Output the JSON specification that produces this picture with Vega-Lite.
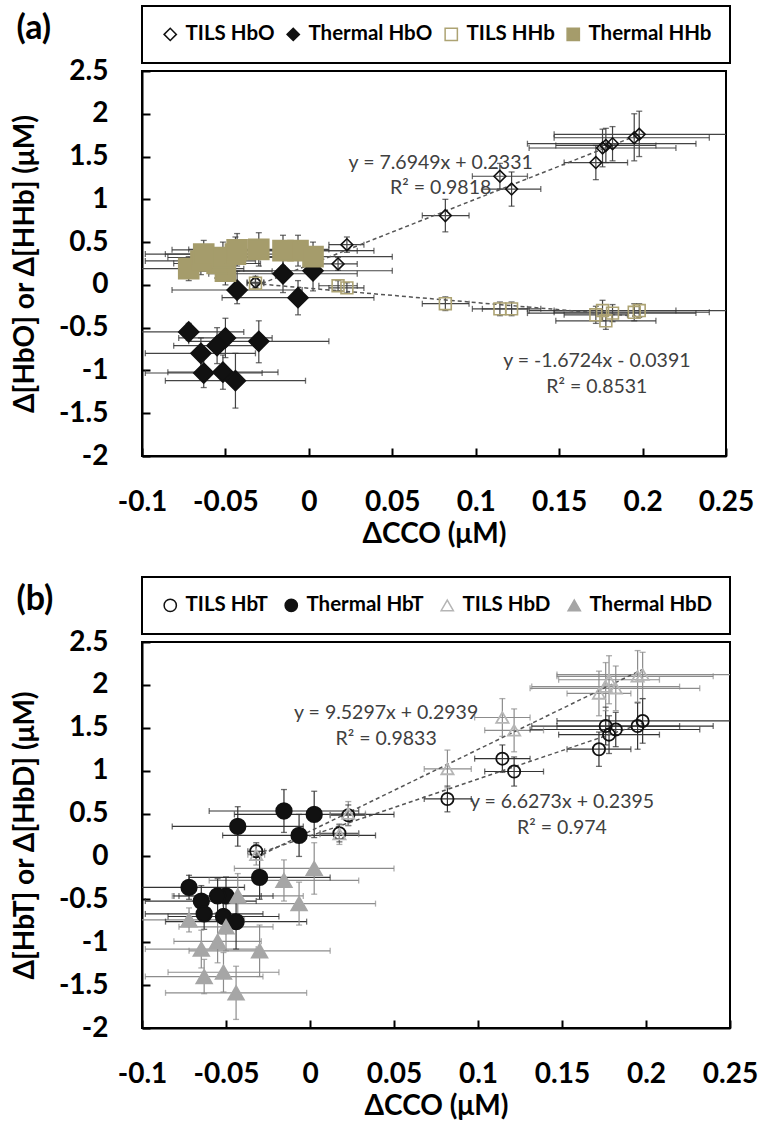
{
 "$schema": "https://vega.github.io/schema/vega-lite/v6.json",
 "padding": {"left": 10, "top": 4, "right": 2, "bottom": 2},
 "background": "white",
 "config": {
  "font": "Lato",
  "view": {"stroke": "black", "strokeWidth": 2},
  "scale": {"continuousPadding": 0},
  "axis": {"grid": false, "labelFlush": false, "labelOverlap": false, "domainColor": "black", "domainWidth": 2, "tickColor": "black", "tickWidth": 2, "tickSize": -8, "labelFont": "Lato", "labelFontSize": 28, "labelFontWeight": "bold", "labelColor": "black", "titleFont": "Lato", "titleFontSize": 28, "titleFontWeight": "bold", "titleColor": "black"},
  "axisX": {"labelPadding": 40, "titlePadding": 4},
  "axisY": {"labelPadding": 42, "titlePadding": 19},
  "legend": {"labelFont": "Lato", "labelFontSize": 20.5, "labelFontWeight": "bold", "labelColor": "black", "strokeColor": "black", "strokeWidth": 2, "padding": 18, "offset": 8, "symbolSize": 150, "symbolStrokeWidth": 1.5, "columnPadding": 8, "labelOffset": 5},
  "title": {"font": "Lato", "fontSize": 34, "fontWeight": "bold", "color": "black", "anchor": "start", "frame": "bounds", "offset": 0}
 },
 "datasets": {
  "a": [
   {"s":"TILS HbO","m":"TILS","x":-0.032,"xlo":-0.037,"xhi":-0.027,"y":0.03,"ylo":-0.04,"yhi":0.1},
   {"s":"TILS HbO","m":"TILS","x":0.0175,"xlo":0.006,"xhi":0.029,"y":0.245,"ylo":0.17,"yhi":0.32},
   {"s":"TILS HbO","m":"TILS","x":0.0228,"xlo":0.012,"xhi":0.033,"y":0.47,"ylo":0.38,"yhi":0.56},
   {"s":"TILS HbO","m":"TILS","x":0.0818,"xlo":0.068,"xhi":0.096,"y":0.81,"ylo":0.62,"yhi":1.0},
   {"s":"TILS HbO","m":"TILS","x":0.1145,"xlo":0.098,"xhi":0.131,"y":1.27,"ylo":1.12,"yhi":1.42},
   {"s":"TILS HbO","m":"TILS","x":0.1215,"xlo":0.104,"xhi":0.139,"y":1.12,"ylo":0.92,"yhi":1.32},
   {"s":"TILS HbO","m":"TILS","x":0.172,"xlo":0.153,"xhi":0.191,"y":1.43,"ylo":1.23,"yhi":1.63},
   {"s":"TILS HbO","m":"TILS","x":0.176,"xlo":0.132,"xhi":0.22,"y":1.6,"ylo":1.38,"yhi":1.82},
   {"s":"TILS HbO","m":"TILS","x":0.178,"xlo":0.148,"xhi":0.208,"y":1.63,"ylo":1.43,"yhi":1.83},
   {"s":"TILS HbO","m":"TILS","x":0.182,"xlo":0.131,"xhi":0.232,"y":1.65,"ylo":1.45,"yhi":1.85},
   {"s":"TILS HbO","m":"TILS","x":0.195,"xlo":0.147,"xhi":0.24,"y":1.72,"ylo":1.45,"yhi":2.0},
   {"s":"TILS HbO","m":"TILS","x":0.198,"xlo":0.147,"xhi":0.26,"y":1.76,"ylo":1.5,"yhi":2.03},
   {"s":"Thermal HbO","m":"Thermal","x":-0.072,"xlo":-0.105,"xhi":-0.039,"y":-0.55,"ylo":-0.65,"yhi":-0.45},
   {"s":"Thermal HbO","m":"Thermal","x":-0.05,"xlo":-0.078,"xhi":-0.022,"y":-0.62,"ylo":-0.85,"yhi":-0.39},
   {"s":"Thermal HbO","m":"Thermal","x":-0.055,"xlo":-0.081,"xhi":-0.029,"y":-0.71,"ylo":-0.92,"yhi":-0.5},
   {"s":"Thermal HbO","m":"Thermal","x":-0.03,"xlo":-0.072,"xhi":0.012,"y":-0.66,"ylo":-0.91,"yhi":-0.42},
   {"s":"Thermal HbO","m":"Thermal","x":-0.0647,"xlo":-0.098,"xhi":-0.032,"y":-0.8,"ylo":-0.98,"yhi":-0.62},
   {"s":"Thermal HbO","m":"Thermal","x":-0.063,"xlo":-0.098,"xhi":-0.028,"y":-1.03,"ylo":-1.2,"yhi":-0.85},
   {"s":"Thermal HbO","m":"Thermal","x":-0.0515,"xlo":-0.0845,"xhi":-0.0185,"y":-1.02,"ylo":-1.22,"yhi":-0.82},
   {"s":"Thermal HbO","m":"Thermal","x":-0.044,"xlo":-0.086,"xhi":-0.002,"y":-1.12,"ylo":-1.44,"yhi":-0.8},
   {"s":"Thermal HbO","m":"Thermal","x":-0.043,"xlo":-0.082,"xhi":-0.004,"y":-0.06,"ylo":-0.22,"yhi":0.16},
   {"s":"Thermal HbO","m":"Thermal","x":-0.0065,"xlo":-0.052,"xhi":0.039,"y":-0.15,"ylo":-0.35,"yhi":0.05},
   {"s":"Thermal HbO","m":"Thermal","x":-0.0155,"xlo":-0.06,"xhi":0.029,"y":0.13,"ylo":-0.09,"yhi":0.35},
   {"s":"Thermal HbO","m":"Thermal","x":0.0025,"xlo":-0.045,"xhi":0.05,"y":0.165,"ylo":-0.07,"yhi":0.4},
   {"s":"TILS HHb","m":"TILS","x":-0.032,"xlo":-0.037,"xhi":-0.027,"y":0.02,"ylo":-0.03,"yhi":0.07},
   {"s":"TILS HHb","m":"TILS","x":0.0175,"xlo":0.006,"xhi":0.029,"y":-0.01,"ylo":-0.07,"yhi":0.05},
   {"s":"TILS HHb","m":"TILS","x":0.0228,"xlo":0.012,"xhi":0.033,"y":-0.035,"ylo":-0.095,"yhi":0.025},
   {"s":"TILS HHb","m":"TILS","x":0.0818,"xlo":0.068,"xhi":0.096,"y":-0.22,"ylo":-0.3,"yhi":-0.14},
   {"s":"TILS HHb","m":"TILS","x":0.1145,"xlo":0.098,"xhi":0.131,"y":-0.28,"ylo":-0.36,"yhi":-0.2},
   {"s":"TILS HHb","m":"TILS","x":0.1215,"xlo":0.104,"xhi":0.139,"y":-0.28,"ylo":-0.36,"yhi":-0.2},
   {"s":"TILS HHb","m":"TILS","x":0.172,"xlo":0.153,"xhi":0.191,"y":-0.35,"ylo":-0.45,"yhi":-0.25},
   {"s":"TILS HHb","m":"TILS","x":0.176,"xlo":0.132,"xhi":0.22,"y":-0.3,"ylo":-0.42,"yhi":-0.18},
   {"s":"TILS HHb","m":"TILS","x":0.178,"xlo":0.148,"xhi":0.208,"y":-0.42,"ylo":-0.52,"yhi":-0.32},
   {"s":"TILS HHb","m":"TILS","x":0.182,"xlo":0.131,"xhi":0.232,"y":-0.33,"ylo":-0.43,"yhi":-0.23},
   {"s":"TILS HHb","m":"TILS","x":0.195,"xlo":0.147,"xhi":0.24,"y":-0.32,"ylo":-0.42,"yhi":-0.22},
   {"s":"TILS HHb","m":"TILS","x":0.198,"xlo":0.147,"xhi":0.26,"y":-0.3,"ylo":-0.38,"yhi":-0.22},
   {"s":"Thermal HHb","m":"Thermal","x":-0.072,"xlo":-0.105,"xhi":-0.039,"y":0.19,"ylo":0.05,"yhi":0.33},
   {"s":"Thermal HHb","m":"Thermal","x":-0.05,"xlo":-0.078,"xhi":-0.022,"y":0.16,"ylo":0.0,"yhi":0.32},
   {"s":"Thermal HHb","m":"Thermal","x":-0.055,"xlo":-0.081,"xhi":-0.029,"y":0.25,"ylo":0.08,"yhi":0.42},
   {"s":"Thermal HHb","m":"Thermal","x":-0.03,"xlo":-0.072,"xhi":0.012,"y":0.415,"ylo":0.22,"yhi":0.61},
   {"s":"Thermal HHb","m":"Thermal","x":-0.0647,"xlo":-0.098,"xhi":-0.032,"y":0.28,"ylo":0.12,"yhi":0.44},
   {"s":"Thermal HHb","m":"Thermal","x":-0.063,"xlo":-0.098,"xhi":-0.028,"y":0.36,"ylo":0.2,"yhi":0.52},
   {"s":"Thermal HHb","m":"Thermal","x":-0.0515,"xlo":-0.0845,"xhi":-0.0185,"y":0.32,"ylo":0.14,"yhi":0.5},
   {"s":"Thermal HHb","m":"Thermal","x":-0.044,"xlo":-0.086,"xhi":-0.002,"y":0.36,"ylo":0.16,"yhi":0.56},
   {"s":"Thermal HHb","m":"Thermal","x":-0.043,"xlo":-0.082,"xhi":-0.004,"y":0.41,"ylo":0.22,"yhi":0.6},
   {"s":"Thermal HHb","m":"Thermal","x":-0.0065,"xlo":-0.052,"xhi":0.039,"y":0.4,"ylo":0.22,"yhi":0.58},
   {"s":"Thermal HHb","m":"Thermal","x":-0.0155,"xlo":-0.06,"xhi":0.029,"y":0.4,"ylo":0.22,"yhi":0.58},
   {"s":"Thermal HHb","m":"Thermal","x":0.0025,"xlo":-0.045,"xhi":0.05,"y":0.33,"ylo":0.16,"yhi":0.5}
  ],
  "b": [
   {"s":"TILS HbT","m":"TILS","x":-0.032,"xlo":-0.037,"xhi":-0.027,"y":0.06,"ylo":-0.04,"yhi":0.16},
   {"s":"TILS HbT","m":"TILS","x":0.0175,"xlo":0.006,"xhi":0.029,"y":0.27,"ylo":0.17,"yhi":0.37},
   {"s":"TILS HbT","m":"TILS","x":0.0228,"xlo":0.012,"xhi":0.033,"y":0.48,"ylo":0.36,"yhi":0.6},
   {"s":"TILS HbT","m":"TILS","x":0.0818,"xlo":0.068,"xhi":0.096,"y":0.67,"ylo":0.52,"yhi":0.82},
   {"s":"TILS HbT","m":"TILS","x":0.1145,"xlo":0.098,"xhi":0.131,"y":1.14,"ylo":0.98,"yhi":1.3},
   {"s":"TILS HbT","m":"TILS","x":0.1215,"xlo":0.104,"xhi":0.139,"y":0.99,"ylo":0.82,"yhi":1.16},
   {"s":"TILS HbT","m":"TILS","x":0.172,"xlo":0.153,"xhi":0.191,"y":1.25,"ylo":1.05,"yhi":1.45},
   {"s":"TILS HbT","m":"TILS","x":0.176,"xlo":0.132,"xhi":0.22,"y":1.52,"ylo":1.3,"yhi":1.74},
   {"s":"TILS HbT","m":"TILS","x":0.178,"xlo":0.148,"xhi":0.208,"y":1.42,"ylo":1.2,"yhi":1.64},
   {"s":"TILS HbT","m":"TILS","x":0.182,"xlo":0.131,"xhi":0.232,"y":1.48,"ylo":1.28,"yhi":1.68},
   {"s":"TILS HbT","m":"TILS","x":0.195,"xlo":0.147,"xhi":0.24,"y":1.52,"ylo":1.25,"yhi":1.79},
   {"s":"TILS HbT","m":"TILS","x":0.198,"xlo":0.147,"xhi":0.26,"y":1.58,"ylo":1.32,"yhi":1.84},
   {"s":"Thermal HbT","m":"Thermal","x":-0.072,"xlo":-0.105,"xhi":-0.039,"y":-0.36,"ylo":-0.5,"yhi":-0.22},
   {"s":"Thermal HbT","m":"Thermal","x":-0.05,"xlo":-0.078,"xhi":-0.022,"y":-0.46,"ylo":-0.68,"yhi":-0.24},
   {"s":"Thermal HbT","m":"Thermal","x":-0.055,"xlo":-0.081,"xhi":-0.029,"y":-0.46,"ylo":-0.66,"yhi":-0.26},
   {"s":"Thermal HbT","m":"Thermal","x":-0.03,"xlo":-0.072,"xhi":0.012,"y":-0.245,"ylo":-0.5,"yhi":0.01},
   {"s":"Thermal HbT","m":"Thermal","x":-0.0647,"xlo":-0.098,"xhi":-0.032,"y":-0.52,"ylo":-0.7,"yhi":-0.34},
   {"s":"Thermal HbT","m":"Thermal","x":-0.063,"xlo":-0.098,"xhi":-0.028,"y":-0.67,"ylo":-0.85,"yhi":-0.49},
   {"s":"Thermal HbT","m":"Thermal","x":-0.0515,"xlo":-0.0845,"xhi":-0.0185,"y":-0.7,"ylo":-0.9,"yhi":-0.5},
   {"s":"Thermal HbT","m":"Thermal","x":-0.044,"xlo":-0.086,"xhi":-0.002,"y":-0.76,"ylo":-1.08,"yhi":-0.44},
   {"s":"Thermal HbT","m":"Thermal","x":-0.043,"xlo":-0.082,"xhi":-0.004,"y":0.35,"ylo":0.12,"yhi":0.58},
   {"s":"Thermal HbT","m":"Thermal","x":-0.0065,"xlo":-0.052,"xhi":0.039,"y":0.245,"ylo":0.0,"yhi":0.49},
   {"s":"Thermal HbT","m":"Thermal","x":-0.0155,"xlo":-0.06,"xhi":0.029,"y":0.53,"ylo":0.28,"yhi":0.78},
   {"s":"Thermal HbT","m":"Thermal","x":0.0025,"xlo":-0.045,"xhi":0.05,"y":0.49,"ylo":0.22,"yhi":0.76},
   {"s":"TILS HbD","m":"TILS","x":-0.032,"xlo":-0.037,"xhi":-0.027,"y":0.02,"ylo":-0.1,"yhi":0.14},
   {"s":"TILS HbD","m":"TILS","x":0.0175,"xlo":0.006,"xhi":0.029,"y":0.26,"ylo":0.14,"yhi":0.38},
   {"s":"TILS HbD","m":"TILS","x":0.0228,"xlo":0.012,"xhi":0.033,"y":0.5,"ylo":0.36,"yhi":0.64},
   {"s":"TILS HbD","m":"TILS","x":0.0818,"xlo":0.068,"xhi":0.096,"y":1.02,"ylo":0.8,"yhi":1.24},
   {"s":"TILS HbD","m":"TILS","x":0.1145,"xlo":0.098,"xhi":0.131,"y":1.62,"ylo":1.4,"yhi":1.84},
   {"s":"TILS HbD","m":"TILS","x":0.1215,"xlo":0.104,"xhi":0.139,"y":1.47,"ylo":1.22,"yhi":1.72},
   {"s":"TILS HbD","m":"TILS","x":0.172,"xlo":0.153,"xhi":0.191,"y":1.9,"ylo":1.64,"yhi":2.16},
   {"s":"TILS HbD","m":"TILS","x":0.176,"xlo":0.132,"xhi":0.22,"y":1.98,"ylo":1.7,"yhi":2.26},
   {"s":"TILS HbD","m":"TILS","x":0.178,"xlo":0.148,"xhi":0.208,"y":2.06,"ylo":1.78,"yhi":2.34},
   {"s":"TILS HbD","m":"TILS","x":0.182,"xlo":0.131,"xhi":0.232,"y":1.96,"ylo":1.7,"yhi":2.22},
   {"s":"TILS HbD","m":"TILS","x":0.195,"xlo":0.147,"xhi":0.24,"y":2.1,"ylo":1.8,"yhi":2.4},
   {"s":"TILS HbD","m":"TILS","x":0.198,"xlo":0.147,"xhi":0.26,"y":2.12,"ylo":1.84,"yhi":2.38},
   {"s":"Thermal HbD","m":"Thermal","x":-0.072,"xlo":-0.105,"xhi":-0.039,"y":-0.74,"ylo":-0.88,"yhi":-0.6},
   {"s":"Thermal HbD","m":"Thermal","x":-0.05,"xlo":-0.078,"xhi":-0.022,"y":-0.82,"ylo":-1.1,"yhi":-0.54},
   {"s":"Thermal HbD","m":"Thermal","x":-0.055,"xlo":-0.081,"xhi":-0.029,"y":-0.99,"ylo":-1.24,"yhi":-0.74},
   {"s":"Thermal HbD","m":"Thermal","x":-0.03,"xlo":-0.072,"xhi":0.012,"y":-1.1,"ylo":-1.4,"yhi":-0.8},
   {"s":"Thermal HbD","m":"Thermal","x":-0.0647,"xlo":-0.098,"xhi":-0.032,"y":-1.08,"ylo":-1.3,"yhi":-0.86},
   {"s":"Thermal HbD","m":"Thermal","x":-0.063,"xlo":-0.098,"xhi":-0.028,"y":-1.4,"ylo":-1.6,"yhi":-1.2},
   {"s":"Thermal HbD","m":"Thermal","x":-0.0515,"xlo":-0.0845,"xhi":-0.0185,"y":-1.35,"ylo":-1.58,"yhi":-1.12},
   {"s":"Thermal HbD","m":"Thermal","x":-0.044,"xlo":-0.086,"xhi":-0.002,"y":-1.59,"ylo":-1.9,"yhi":-1.28},
   {"s":"Thermal HbD","m":"Thermal","x":-0.043,"xlo":-0.082,"xhi":-0.004,"y":-0.46,"ylo":-0.72,"yhi":-0.2},
   {"s":"Thermal HbD","m":"Thermal","x":-0.0065,"xlo":-0.052,"xhi":0.039,"y":-0.55,"ylo":-0.8,"yhi":-0.3},
   {"s":"Thermal HbD","m":"Thermal","x":-0.0155,"xlo":-0.06,"xhi":0.029,"y":-0.28,"ylo":-0.52,"yhi":-0.04},
   {"s":"Thermal HbD","m":"Thermal","x":0.0025,"xlo":-0.045,"xhi":0.05,"y":-0.14,"ylo":-0.44,"yhi":0.16}
  ],
  "ta": [
   {"g":"HbO","x":-0.032,"y":-0.0131},{"g":"HbO","x":0.198,"y":1.7567},
   {"g":"HHb","x":-0.032,"y":0.0144},{"g":"HHb","x":0.198,"y":-0.3702}
  ],
  "tb": [
   {"g":"HbD","x":-0.032,"y":-0.0111},{"g":"HbD","x":0.198,"y":2.1808},
   {"g":"HbT","x":-0.032,"y":0.0274},{"g":"HbT","x":0.198,"y":1.5517}
  ],
  "la": [
   {"t":"y = 7.6949x + 0.2331","x":0.079,"y":1.425},
   {"t":"R² = 0.9818","x":0.079,"y":1.13},
   {"t":"y = -1.6724x - 0.0391","x":0.1726,"y":-0.888},
   {"t":"R² = 0.8531","x":0.1726,"y":-1.19}
  ],
  "lb": [
   {"t":"y = 9.5297x + 0.2939","x":0.0453,"y":1.67},
   {"t":"R² = 0.9833","x":0.0453,"y":1.365},
   {"t":"y = 6.6273x + 0.2395","x":0.15,"y":0.63},
   {"t":"R² = 0.974","x":0.15,"y":0.327}
  ]
 },
 "spacing": 26,
 "resolve": {"scale": {"x": "independent", "y": "independent", "shape": "independent", "fill": "independent", "stroke": "independent", "size": "independent"}},
 "vconcat": [
  {
   "width": 584, "height": 385,
   "title": {"text": "(a)", "dy": 45, "dx": 5},
   "layer": [
    {"data": {"name": "a"}, "mark": {"type": "rule", "color": "#444", "strokeWidth": 1.2, "clip": true},
     "encoding": {"x": {"field": "xlo", "type": "quantitative", "title": "ΔCCO (μM)", "scale": {"domain": [-0.1, 0.25], "nice": false, "zero": false, "padding": 0}, "axis": {"values": [-0.1, -0.05, 0, 0.05, 0.1, 0.15, 0.2, 0.25], "labelExpr": "'' + datum.value"}}, "x2": {"field": "xhi"},
      "y": {"field": "y", "type": "quantitative", "title": "Δ[HbO] or Δ[HHb] (μM)", "scale": {"domain": [-2, 2.5], "nice": false, "zero": false, "padding": 0}, "axis": {"values": [-2, -1.5, -1, -0.5, 0, 0.5, 1, 1.5, 2, 2.5], "labelExpr": "'' + datum.value"}}}},
    {"data": {"name": "a"}, "mark": {"type": "rule", "color": "#444", "strokeWidth": 1.2, "clip": true},
     "encoding": {"x": {"field": "x", "type": "quantitative", "title": "ΔCCO (μM)"}, "y": {"field": "ylo", "type": "quantitative", "title": "Δ[HbO] or Δ[HHb] (μM)"}, "y2": {"field": "yhi"}}},
    {"data": {"name": "a"}, "mark": {"type": "tick", "orient": "vertical", "color": "#333", "size": 6, "thickness": 1.3, "clip": true},
     "encoding": {"x": {"field": "xlo", "type": "quantitative", "title": "ΔCCO (μM)"}, "y": {"field": "y", "type": "quantitative", "title": "Δ[HbO] or Δ[HHb] (μM)"}}},
    {"data": {"name": "a"}, "mark": {"type": "tick", "orient": "vertical", "color": "#333", "size": 6, "thickness": 1.3, "clip": true},
     "encoding": {"x": {"field": "xhi", "type": "quantitative", "title": "ΔCCO (μM)"}, "y": {"field": "y", "type": "quantitative", "title": "Δ[HbO] or Δ[HHb] (μM)"}}},
    {"data": {"name": "a"}, "mark": {"type": "tick", "orient": "horizontal", "color": "#333", "size": 6, "thickness": 1.3, "clip": true},
     "encoding": {"x": {"field": "x", "type": "quantitative", "title": "ΔCCO (μM)"}, "y": {"field": "ylo", "type": "quantitative", "title": "Δ[HbO] or Δ[HHb] (μM)"}}},
    {"data": {"name": "a"}, "mark": {"type": "tick", "orient": "horizontal", "color": "#333", "size": 6, "thickness": 1.3, "clip": true},
     "encoding": {"x": {"field": "x", "type": "quantitative", "title": "ΔCCO (μM)"}, "y": {"field": "yhi", "type": "quantitative", "title": "Δ[HbO] or Δ[HHb] (μM)"}}},
    {"data": {"name": "ta"}, "mark": {"type": "line", "strokeDash": [4, 3], "color": "#555", "strokeWidth": 1.5},
     "encoding": {"x": {"field": "x", "type": "quantitative", "title": "ΔCCO (μM)"}, "y": {"field": "y", "type": "quantitative", "title": "Δ[HbO] or Δ[HHb] (μM)"}, "detail": {"field": "g", "type": "nominal"}}},
    {"data": {"name": "a"}, "mark": {"type": "point", "filled": true, "strokeWidth": 1.6, "opacity": 1},
     "encoding": {
      "x": {"field": "x", "type": "quantitative", "title": "ΔCCO (μM)"},
      "y": {"field": "y", "type": "quantitative", "title": "Δ[HbO] or Δ[HHb] (μM)"},
      "shape": {"field": "s", "type": "nominal", "scale": {"domain": ["TILS HbO", "Thermal HbO", "TILS HHb", "Thermal HHb"], "range": ["diamond", "diamond", "square", "square"]}, "legend": {"orient": "top", "direction": "horizontal", "title": null}},
      "fill": {"field": "s", "type": "nominal", "scale": {"domain": ["TILS HbO", "Thermal HbO", "TILS HHb", "Thermal HHb"], "range": ["transparent", "#111", "transparent", "#a59c6b"]}, "legend": {"orient": "top", "direction": "horizontal", "title": null}},
      "stroke": {"field": "s", "type": "nominal", "scale": {"domain": ["TILS HbO", "Thermal HbO", "TILS HHb", "Thermal HHb"], "range": ["#111", "#111", "#ada373", "#a59c6b"]}, "legend": {"orient": "top", "direction": "horizontal", "title": null}},
      "size": {"field": "m", "type": "nominal", "scale": {"domain": ["TILS", "Thermal"], "range": [140, 400]}, "legend": null}
     }},
    {"data": {"name": "la"}, "mark": {"type": "text", "fontSize": 19.5, "color": "#404040", "font": "Lato"},
     "encoding": {"x": {"field": "x", "type": "quantitative", "title": "ΔCCO (μM)"}, "y": {"field": "y", "type": "quantitative", "title": "Δ[HbO] or Δ[HHb] (μM)"}, "text": {"field": "t"}}}
   ]
  },
  {
   "width": 588, "height": 386,
   "title": {"text": "(b)", "dy": 45, "dx": 5},
   "layer": [
    {"data": {"name": "b"}, "mark": {"type": "rule", "strokeWidth": 1.2, "clip": true},
     "encoding": {"x": {"field": "xlo", "type": "quantitative", "title": "ΔCCO (μM)", "scale": {"domain": [-0.1, 0.25], "nice": false, "zero": false, "padding": 0}, "axis": {"values": [-0.1, -0.05, 0, 0.05, 0.1, 0.15, 0.2, 0.25], "labelExpr": "'' + datum.value"}}, "x2": {"field": "xhi"},
      "y": {"field": "y", "type": "quantitative", "title": "Δ[HbT] or Δ[HbD] (μM)", "scale": {"domain": [-2, 2.5], "nice": false, "zero": false, "padding": 0}, "axis": {"values": [-2, -1.5, -1, -0.5, 0, 0.5, 1, 1.5, 2, 2.5], "labelExpr": "'' + datum.value"}},
      "color": {"condition": {"test": "indexof(datum.s, 'HbD') >= 0", "value": "#8c8c8c"}, "value": "#333"}}},
    {"data": {"name": "b"}, "mark": {"type": "rule", "strokeWidth": 1.2, "clip": true},
     "encoding": {"x": {"field": "x", "type": "quantitative", "title": "ΔCCO (μM)"}, "y": {"field": "ylo", "type": "quantitative", "title": "Δ[HbT] or Δ[HbD] (μM)"}, "y2": {"field": "yhi"},
      "color": {"condition": {"test": "indexof(datum.s, 'HbD') >= 0", "value": "#8c8c8c"}, "value": "#333"}}},
    {"data": {"name": "b"}, "mark": {"type": "tick", "orient": "vertical", "size": 6, "thickness": 1.3, "clip": true},
     "encoding": {"x": {"field": "xlo", "type": "quantitative", "title": "ΔCCO (μM)"}, "y": {"field": "y", "type": "quantitative", "title": "Δ[HbT] or Δ[HbD] (μM)"},
      "color": {"condition": {"test": "indexof(datum.s, 'HbD') >= 0", "value": "#8c8c8c"}, "value": "#333"}}},
    {"data": {"name": "b"}, "mark": {"type": "tick", "orient": "vertical", "size": 6, "thickness": 1.3, "clip": true},
     "encoding": {"x": {"field": "xhi", "type": "quantitative", "title": "ΔCCO (μM)"}, "y": {"field": "y", "type": "quantitative", "title": "Δ[HbT] or Δ[HbD] (μM)"},
      "color": {"condition": {"test": "indexof(datum.s, 'HbD') >= 0", "value": "#8c8c8c"}, "value": "#333"}}},
    {"data": {"name": "b"}, "mark": {"type": "tick", "orient": "horizontal", "size": 6, "thickness": 1.3, "clip": true},
     "encoding": {"x": {"field": "x", "type": "quantitative", "title": "ΔCCO (μM)"}, "y": {"field": "ylo", "type": "quantitative", "title": "Δ[HbT] or Δ[HbD] (μM)"},
      "color": {"condition": {"test": "indexof(datum.s, 'HbD') >= 0", "value": "#8c8c8c"}, "value": "#333"}}},
    {"data": {"name": "b"}, "mark": {"type": "tick", "orient": "horizontal", "size": 6, "thickness": 1.3, "clip": true},
     "encoding": {"x": {"field": "x", "type": "quantitative", "title": "ΔCCO (μM)"}, "y": {"field": "yhi", "type": "quantitative", "title": "Δ[HbT] or Δ[HbD] (μM)"},
      "color": {"condition": {"test": "indexof(datum.s, 'HbD') >= 0", "value": "#8c8c8c"}, "value": "#333"}}},
    {"data": {"name": "tb"}, "mark": {"type": "line", "strokeDash": [4, 3], "color": "#555", "strokeWidth": 1.5},
     "encoding": {"x": {"field": "x", "type": "quantitative", "title": "ΔCCO (μM)"}, "y": {"field": "y", "type": "quantitative", "title": "Δ[HbT] or Δ[HbD] (μM)"}, "detail": {"field": "g", "type": "nominal"}}},
    {"data": {"name": "b"}, "mark": {"type": "point", "filled": true, "strokeWidth": 1.8, "opacity": 1},
     "encoding": {
      "x": {"field": "x", "type": "quantitative", "title": "ΔCCO (μM)"},
      "y": {"field": "y", "type": "quantitative", "title": "Δ[HbT] or Δ[HbD] (μM)"},
      "shape": {"field": "s", "type": "nominal", "scale": {"domain": ["TILS HbT", "Thermal HbT", "TILS HbD", "Thermal HbD"], "range": ["circle", "circle", "triangle-up", "triangle-up"]}, "legend": {"orient": "top", "direction": "horizontal", "title": null, "columnPadding": 13}},
      "fill": {"field": "s", "type": "nominal", "scale": {"domain": ["TILS HbT", "Thermal HbT", "TILS HbD", "Thermal HbD"], "range": ["transparent", "#111", "transparent", "#a6a6a6"]}, "legend": {"orient": "top", "direction": "horizontal", "title": null, "columnPadding": 13}},
      "stroke": {"field": "s", "type": "nominal", "scale": {"domain": ["TILS HbT", "Thermal HbT", "TILS HbD", "Thermal HbD"], "range": ["#111", "#111", "#b5b5b5", "#a6a6a6"]}, "legend": {"orient": "top", "direction": "horizontal", "title": null, "columnPadding": 13}},
      "size": {"field": "m", "type": "nominal", "scale": {"domain": ["TILS", "Thermal"], "range": [150, 240]}, "legend": null}
     }},
    {"data": {"name": "lb"}, "mark": {"type": "text", "fontSize": 19.5, "color": "#404040", "font": "Lato"},
     "encoding": {"x": {"field": "x", "type": "quantitative", "title": "ΔCCO (μM)"}, "y": {"field": "y", "type": "quantitative", "title": "Δ[HbT] or Δ[HbD] (μM)"}, "text": {"field": "t"}}}
   ]
  }
 ]
}
